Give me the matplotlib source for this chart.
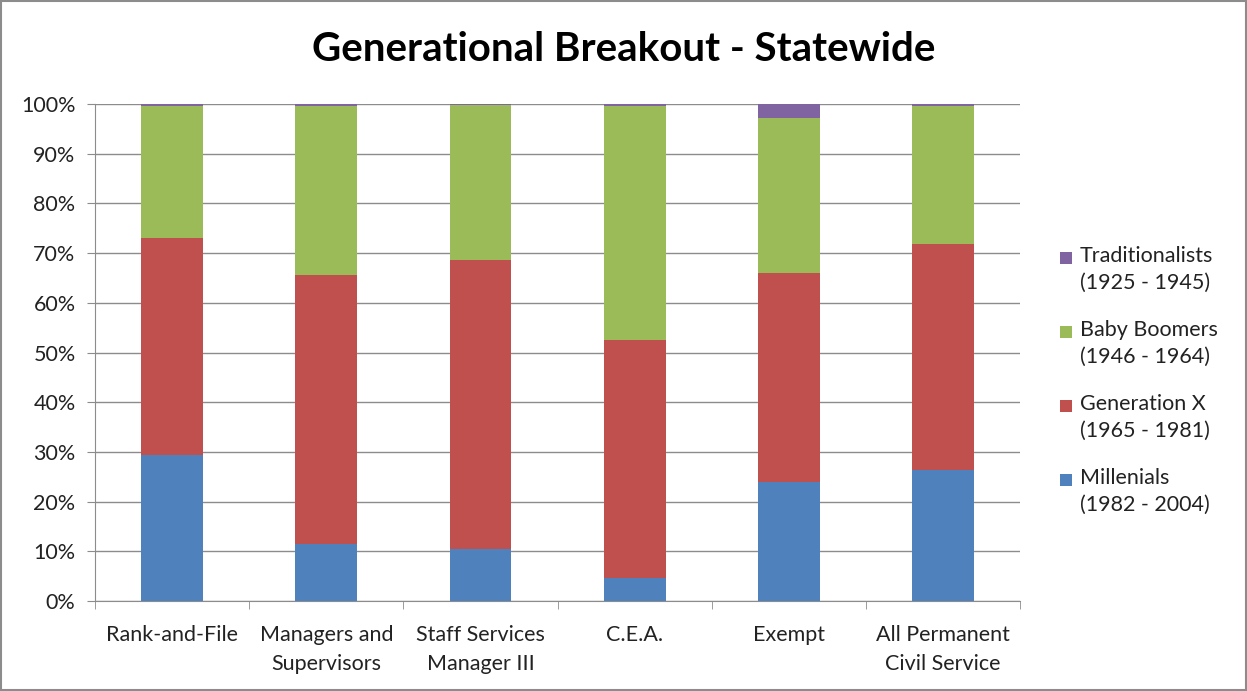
import matplotlib
matplotlib.use("Agg")
from matplotlib import pyplot as plt
from matplotlib.patches import Rectangle
import numpy as np

plt.rcParams['font.family'] = ['Lato', 'DejaVu Sans']

categories = ['Rank-and-File', 'Managers and\nSupervisors', 'Staff Services\nManager III',
              'C.E.A.', 'Exempt', 'All Permanent\nCivil Service']
millenials = [29.4, 11.5, 10.5, 4.6, 23.9, 26.4]
gen_x = [43.6, 54.1, 58.1, 47.9, 42.1, 45.4]
boomers = [26.5, 33.9, 31.2, 47.1, 31.2, 27.8]
traditionalists = [0.5, 0.5, 0.2, 0.4, 2.8, 0.4]

series = [millenials, gen_x, boomers, traditionalists]
labels = ['Millenials\n(1982 - 2004)', 'Generation X\n(1965 - 1981)',
          'Baby Boomers\n(1946 - 1964)', 'Traditionalists\n(1925 - 1945)']
colors = ['#4f81bd', '#c0504d', '#9bbb59', '#8064a2']

fig = plt.figure(figsize=(12.47, 6.91), dpi=100)
ax = fig.add_axes([0.0762, 0.130, 0.742, 0.7195])

x = np.arange(len(categories))
bottom = np.zeros(len(categories))
for vals, lab, col in zip(series, labels, colors):
    ax.bar(x, vals, 0.4, bottom=bottom, color=col, label=lab, zorder=3)
    bottom += np.array(vals)

ax.set_ylim(0, 100)
ax.set_xlim(-0.5, len(categories) - 0.5)
ax.set_yticks(np.arange(0, 101, 10))
ax.set_yticklabels(['{}%'.format(v) for v in range(0, 101, 10)], fontsize=15.5, color='#222222')
ax.grid(axis='y', color='#8c8c8c', linewidth=1, zorder=0)

ax.set_xticks(x)
ax.set_xticklabels(categories, fontsize=15.5, color='#222222', linespacing=1.55)
ax.set_xticks(np.arange(-0.5, len(categories), 1), minor=True)
ax.tick_params(axis='x', which='major', length=0, pad=17)
ax.tick_params(axis='x', which='minor', length=6, color='#8c8c8c')
ax.tick_params(axis='y', length=6, color='#8c8c8c', pad=8)

for s in ['top', 'right']:
    ax.spines[s].set_visible(False)
ax.spines['left'].set_color('#8c8c8c')
ax.spines['bottom'].set_color('#8c8c8c')

fig.text(0.5, 0.928, 'Generational Breakout - Statewide', ha='center', va='center',
         fontsize=29, fontweight='bold', color='black')

# legend drawn by hand: square aligned with the first line, like Excel
leg_top = 1 - 258 / 691
step = 74 / 691
for i, (lab, col) in enumerate(zip(labels[::-1], colors[::-1])):
    yc = leg_top - i * step
    fig.patches.append(Rectangle((1060 / 1247, yc - 6 / 691), 12 / 1247, 12 / 691,
                                 transform=fig.transFigure, facecolor=col, edgecolor='none'))
    fig.text(1080 / 1247, yc + 12 / 691, lab, ha='left', va='top', fontsize=15.5,
             color='#222222', linespacing=1.4)

fig.patches.append(Rectangle((0.001, 0.001), 0.998, 0.998, transform=fig.transFigure,
                             fill=False, edgecolor='#8c8c8c', linewidth=1.5))

plt.savefig('out.png', dpi=100)
